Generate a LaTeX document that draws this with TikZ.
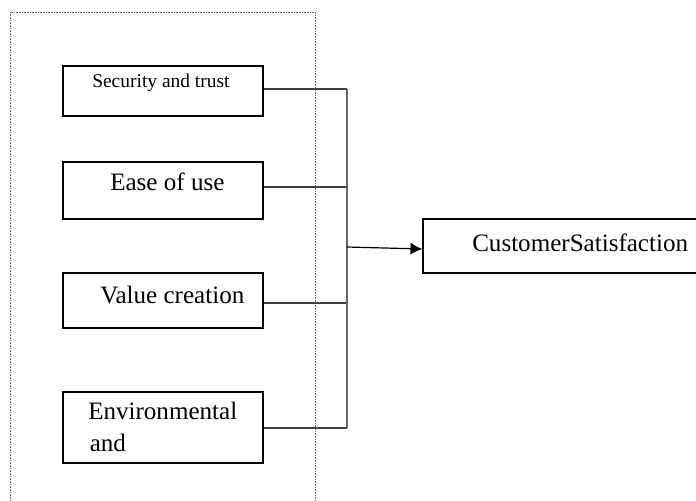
\documentclass[tikz,border=0pt]{standalone}
\usepackage{fontspec}
\setmainfont{Liberation Serif}
\usetikzlibrary{arrows.meta}
\tikzset{
  fbox/.style={draw=black, line width=0.8pt, inner sep=0pt, minimum width=150pt},
  lbl/.style={anchor=base west, inner sep=0pt, font=\rmfamily\fontsize{18.8}{24.5}\selectfont},
  lblsmall/.style={anchor=base west, inner sep=0pt, font=\rmfamily\fontsize{14.6}{17}\selectfont},
  conn/.style={draw=black!75, line width=0.9pt},
  frame/.style={draw=black!60, line width=0.6pt, dash pattern=on 0.6pt off 0.6pt}
}
\begin{document}
\begin{tikzpicture}[x=0.75pt, y=-0.75pt]
\clip (0,0) rectangle (696,500);
\fill[white] (0,0) rectangle (696,500);
% dotted frame
\draw[frame] (10,520) -- (10,12) -- (315,12) -- (315,520);
% boxes
\node[fbox, minimum height=37.5pt] (sec) at (163,91) {};
\node[fbox, minimum height=42.75pt] (ease) at (163,190.5) {};
\node[fbox, minimum height=41.25pt] (val) at (163,300.5) {};
\node[fbox, minimum height=53.25pt] (env) at (163,427.5) {};
\node[fbox, minimum width=215.25pt, minimum height=40.5pt] (cust) at (566.5,246) {};
% texts
\node[lblsmall] (tsec) at (92,87.7) {Security and trust};
\node[lbl] (tease) at (110,190) {Ease of use};
\node[lbl] (tval) at (100,303.3) {Value creation};
\node[lbl] (tenva) at (88,419) {Environmental};
\node[lbl] (tenvb) at (89.5,451.7) {and};
\node[lbl] (tcust) at (472,251.7) {CustomerSatisfaction};
% bus coordinates
\coordinate (jS) at (347,89);
\coordinate (jE) at (347,187);
\coordinate (jJ) at (347,247);
\coordinate (jA) at (423,249);
\coordinate (jV) at (347,303);
\coordinate (jN) at (347,428);
% connectors
\draw[conn] (sec.east |- jS) -- (jS);
\draw[conn] (ease.east |- jE) -- (jE);
\draw[conn] (val.east |- jV) -- (jV);
\draw[conn] (env.east |- jN) -- (jN);
\draw[conn, draw=black!60, line width=1.1pt] (jS) -- (jN);
\draw[conn, draw=black, -{Latex[length=9pt,width=9pt]}] (jJ) -- (cust.west |- jA);
\end{tikzpicture}
\end{document}
